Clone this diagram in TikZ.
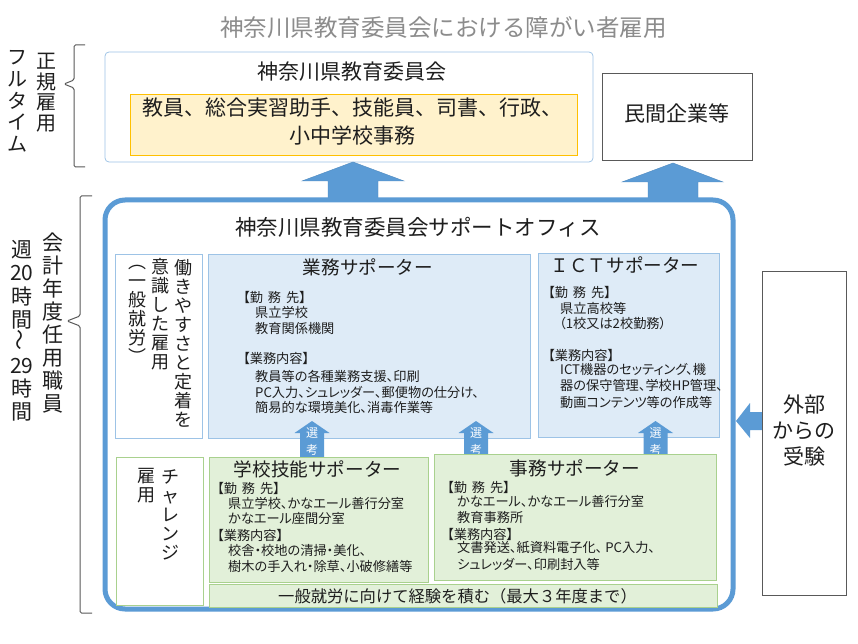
\documentclass[tikz,border=0pt]{standalone}
\usepackage{fontspec}
\usepackage{graphicx}
\setmainfont{Noto Sans CJK JP}
\newfontfamily\jp{Noto Sans CJK JP}
\newfontfamily\jpp[RawFeature=+palt]{Noto Sans CJK JP}
\definecolor{bbord}{HTML}{9DC3E6}
\definecolor{bfill}{HTML}{DEEBF7}
\definecolor{gbord}{HTML}{A9D18E}
\definecolor{gfill}{HTML}{E2F0D9}
\definecolor{yfill}{HTML}{FFF2CC}
\definecolor{ybord}{HTML}{FFC000}
\definecolor{arrowblue}{HTML}{5B9BD5}
\definecolor{arrowedge}{HTML}{4F8AC0}
\definecolor{txt}{HTML}{1E1E1E}
\definecolor{titlegray}{HTML}{8C8C8C}
\definecolor{brk}{HTML}{595959}
\tikzset{
  bx/.style={anchor=north west, inner sep=0, outer sep=0, line width=0.75pt},
  bluebox/.style={bx, draw=bbord, fill=bfill},
  wbluebox/.style={bx, draw=bbord, fill=white},
  greenbox/.style={bx, draw=gbord, fill=gfill},
  wgreenbox/.style={bx, draw=gbord, fill=white},
  blackbox/.style={bx, draw=brk, fill=white, line width=0.9pt},
  tl/.style={anchor=west, inner sep=0, text=txt, font=\jpp\fontsize{13.2}{15}\selectfont},
  ttl/.style={inner sep=0, text=txt, font=\jp\fontsize{18.6}{20}\selectfont},
  vt/.style={align=center, inner sep=0, text=txt, font=\jp\fontsize{18}{19}\selectfont},
  lab/.style={align=center, inner sep=0, text=txt, font=\jp\fontsize{20.5}{21.5}\selectfont},
  bigarrow/.style={fill=arrowblue, draw=arrowedge, line width=0.4pt},
  bracket/.style={draw=brk, line width=1pt, rounded corners=1.5pt},
  sel/.style={align=center, inner sep=0, text=white, font=\jp\fontsize{12}{17}\selectfont}
}
\newcommand\sarrow[3]{%
  \fill[arrowblue] (#2,421) -- (#2+17.5,433) -- (#2+12,433) -- (#2+12,#3) -- (#2-12,#3) -- (#2-12,433) -- (#2-17.5,433) -- cycle;
  \node[sel] (#1) at (#2,441.5) {選\\考};}
\newcommand\kinmu{【勤\hspace{5pt}務\hspace{5pt}先】}
\begin{document}
\begin{tikzpicture}[x=1pt,y=-1pt]
\useasboundingbox (0,0) rectangle (858,644);
\fill[white] (0,0) rectangle (858,644);

% title
\node[inner sep=0, text=titlegray, font=\jp\fontsize{23.5}{25}\selectfont] (title) at (443.5,28) {神奈川県教育委員会における障がい者雇用};

% brackets
\coordinate (b1t) at (85,45);
\coordinate (b1b) at (85,167);
\draw[bracket] (b1t) -- (74,45) -- (74,80) -- (64,84) -- (74,88) -- (74,167) -- (b1b);
\coordinate (b2t) at (92,196);
\coordinate (b2b) at (92,613);
\draw[bracket] (b2t) -- (80,196) -- (80,316) -- (67,321) -- (80,326) -- (80,613) -- (b2b);

% left labels
\node[lab, font=\jp\fontsize{20}{20.5}\selectfont] (lseiki) at (46,92.8) {正\\規\\雇\\用};
\node[lab, font=\jp\fontsize{20}{21.7}\selectfont] (lfull) at (17,101.5) {フ\\ル\\タ\\イ\\ム};
\node[lab, font=\jp\fontsize{21}{22.9}\selectfont] (lkaikei) at (53,323) {会\\計\\年\\度\\任\\用\\職\\員};
\node[lab, font=\jp\fontsize{21}{23.1}\selectfont] (lshu) at (22,331) {週\\20\\時\\間\\\rotatebox{90}{～}\\29\\時\\間};

% top box
\node[wbluebox, rounded corners=4pt, minimum width=488pt, minimum height=110pt] (top) at (105,52) {};
\node[ttl, font=\jp\fontsize{21}{22}\selectfont] (toptitle) at (352,72) {神奈川県教育委員会};
\node[bx, draw=ybord, fill=yfill, minimum width=447pt, minimum height=61pt] (yel) at (130,94) {};
\node[ttl, font=\jp\fontsize{21}{22}\selectfont] (yl1) at (352,108) {教員、総合実習助手、技能員、司書、行政、};
\node[ttl, font=\jp\fontsize{21}{22}\selectfont] (yl2) at (352,135) {小中学校事務};

% private sector
\node[blackbox, minimum width=150pt, minimum height=87pt] (minkan) at (602,73) {};
\node[ttl, font=\jp\fontsize{21}{22}\selectfont] (minkant) at (677,113) {民間企業等};

% big arrows
\filldraw[bigarrow] (353,162) -- (404,181) -- (378,181) -- (378,201) -- (328,201) -- (328,181) -- (302,181) -- cycle;
\filldraw[bigarrow] (673,163) -- (723,182) -- (698,182) -- (698,201) -- (648,201) -- (648,182) -- (622,182) -- cycle;

% support office
\node[bx, draw=arrowblue, line width=5pt, rounded corners=20pt, minimum width=628pt, minimum height=409pt] (office) at (105,200) {};
\node[ttl, font=\jp\fontsize{21.5}{22}\selectfont] (officet) at (418,227) {神奈川県教育委員会サポートオフィス};

% upper row
\node[wbluebox, minimum width=87pt, minimum height=184pt] (ippan) at (115,254) {};
\node[vt] (v1) at (183,343) {働\\き\\や\\す\\さ\\と\\定\\着\\を};
\node[vt] (v2) at (160,314.5) {意\\識\\し\\た\\雇\\用};
\node[vt] (v3) at (137,314.5) {︵\\一\\般\\就\\労\\︶};

\node[bluebox, minimum width=322pt, minimum height=184pt] (gyomu) at (208,254) {};
\node[ttl] (gyomut) at (368,267) {業務サポーター};
\node[tl] (g1) at (243,297) {\kinmu};
\node[tl] (g2) at (255,312) {県立学校};
\node[tl] (g3) at (255,328) {教育関係機関};
\node[tl] (g4) at (243,358) {【業務内容】};
\node[tl] (g5) at (255,376) {教員等の各種業務支援、印刷};
\node[tl] (g6) at (255,392) {PC入力、シュレッダー、郵便物の仕分け、};
\node[tl] (g7) at (255,407) {簡易的な環境美化、消毒作業等};

\node[bluebox, minimum width=181pt, minimum height=184pt] (ict) at (538,253) {};
\node[ttl] (ictt) at (625,265) {ＩＣＴサポーター};
\node[tl] (i1) at (548,292) {\kinmu};
\node[tl] (i2) at (560,308) {県立高校等};
\node[tl] (i3) at (559,323) {（1校又は2校勤務）};
\node[tl] (i4) at (548,355) {【業務内容】};
\node[tl] (i5) at (560,369) {ICT機器のセッティング、機};
\node[tl] (i6) at (560,385) {器の保守管理、学校HP管理、};
\node[tl] (i7) at (560,402) {動画コンテンツ等の作成等};

% selection arrows
\sarrow{s1}{312}{457}
\sarrow{s2}{476}{455}
\sarrow{s3}{655.5}{455}

% lower row
\node[wgreenbox, minimum width=87pt, minimum height=148pt] (chal) at (116,457) {};
\node[vt] (v4) at (170,515) {チ\\ャ\\レ\\ン\\ジ};
\node[vt] (v5) at (146,486) {雇\\用};

\node[greenbox, minimum width=219pt, minimum height=125pt] (gino) at (209,457) {};
\node[ttl] (ginot) at (317.5,469) {学校技能サポーター};
\node[tl] (k1) at (217,488) {\kinmu};
\node[tl] (k2) at (228,503) {県立学校、かなエール善行分室};
\node[tl] (k3) at (228,519) {かなエール座間分室};
\node[tl] (k4) at (217,535) {【業務内容】};
\node[tl] (k5) at (228,550) {校舎・校地の清掃・美化、};
\node[tl] (k6) at (228,566) {樹木の手入れ・除草、小破修繕等};

\node[greenbox, minimum width=282pt, minimum height=126pt] (jimu) at (434,454) {};
\node[ttl] (jimut) at (575,468) {事務サポーター};
\node[tl] (j1) at (447,487) {\kinmu};
\node[tl] (j2) at (457,501) {かなエール、かなエール善行分室};
\node[tl] (j3) at (457,517) {教育事務所};
\node[tl] (j4) at (447,534) {【業務内容】};
\node[tl] (j5) at (457,548) {文書発送、紙資料電子化、 PC入力、};
\node[tl] (j6) at (457,564) {シュレッダー、印刷封入等};

\node[greenbox, minimum width=508pt, minimum height=23pt] (bar) at (209,584) {};
\node[ttl, font=\jp\fontsize{16.3}{17}\selectfont] (bart) at (457.5,596) {一般就労に向けて経験を積む（最大３年度まで）};

% external
\fill[arrowblue] (736,421) -- (750,403) -- (750,412) -- (763,412) -- (763,430) -- (750,430) -- (750,438) -- cycle;
\node[blackbox, minimum width=84pt, minimum height=324pt] (gaibu) at (762,271) {};
\node[lab, font=\jp\fontsize{21}{26}\selectfont] (gaibut) at (804,431) {外部\\からの\\受験};
\end{tikzpicture}
\end{document}
